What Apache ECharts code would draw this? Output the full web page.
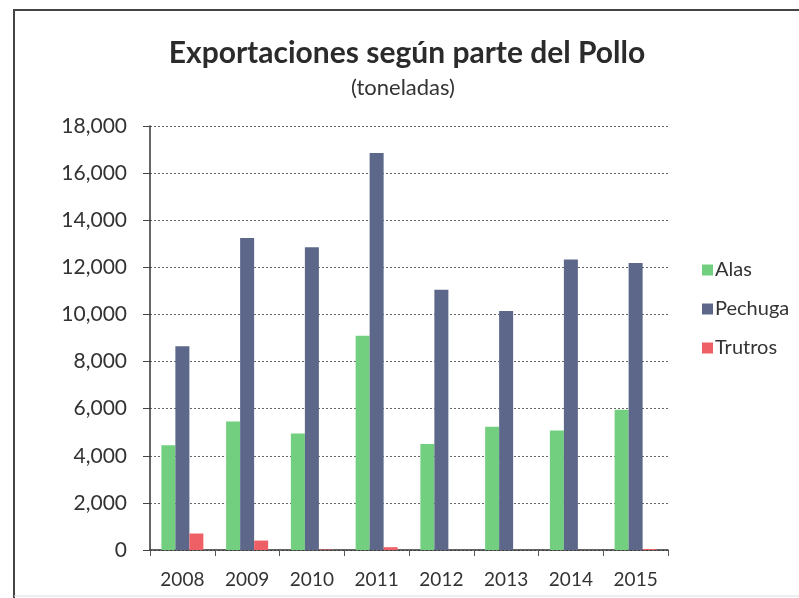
<!DOCTYPE html>
<html>
<head>
<meta charset="utf-8">
<script src="https://cdn.jsdelivr.net/npm/echarts@6/dist/echarts.min.js"></script>
<style>
  html, body { margin: 0; padding: 0; background: #fff; }
  #chart { width: 799px; height: 598px; }
</style>
</head>
<body>
<div id="chart"></div>
<script>
// Toneladas exportadas por parte del pollo, 2008-2015
const years = ['2008', '2009', '2010', '2011', '2012', '2013', '2014', '2015'];
const alas = [4450, 5450, 4950, 9100, 4500, 5230, 5070, 5950];
const pechuga = [8650, 13250, 12850, 16850, 11050, 10150, 12330, 12180];
const trutros = [700, 400, 20, 120, 0, 0, 0, 40];
const yTicks = { min: 0, max: 18000, interval: 2000 };

const FONT = 'Lato, "Open Sans", sans-serif';
const chart = echarts.init(document.getElementById('chart'), null, { renderer: 'canvas' });

const fmt = v => v.toLocaleString('en-US');

chart.setOption({
  animation: false,
  backgroundColor: '#ffffff',
  textStyle: { fontFamily: FONT },
  title: [
    {
      text: 'Exportaciones según parte del Pollo',
      left: 402, top: 33, textAlign: 'center',
      textStyle: { fontFamily: FONT, fontSize: 30, fontWeight: 'bold', color: '#2b2b2b' }
    },
    {
      text: '(toneladas)',
      left: 398, top: 72, textAlign: 'center',
      textStyle: { fontFamily: FONT, fontSize: 22, fontWeight: 'normal', color: '#333' }
    }
  ],
  legend: {
    orient: 'vertical',
    left: 697, top: 255,
    itemWidth: 11, itemHeight: 11, itemGap: 19,
    icon: 'rect',
    textStyle: { fontFamily: FONT, fontSize: 20, color: '#333', padding: [0, 0, 0, -3] },
    data: ['Alas', 'Pechuga', 'Trutros']
  },
  grid: { left: 150, right: 131, top: 126, bottom: 48, containLabel: false },
  xAxis: {
    type: 'category',
    data: years,
    axisLine: { lineStyle: { color: '#333', width: 1.5 } },
    axisTick: { show: true, alignWithLabel: false, length: 6, lineStyle: { color: '#555' } },
    axisLabel: { fontFamily: FONT, fontSize: 19, color: '#333', margin: 20 }
  },
  yAxis: {
    type: 'value',
    min: yTicks.min, max: yTicks.max, interval: yTicks.interval,
    axisLine: { show: true, lineStyle: { color: '#333', width: 1.5 } },
    axisTick: { show: true, inside: false, length: 7, lineStyle: { color: '#444' } },
    axisLabel: { fontFamily: FONT, fontSize: 21, color: '#333', margin: 23, formatter: fmt },
    splitLine: { show: true, lineStyle: { color: '#666', type: [2, 2], width: 1 } }
  },
  series: [
    { name: 'Alas', type: 'bar', data: alas, barWidth: 14, barGap: '0%',
      itemStyle: { color: '#72cf7f' } },
    { name: 'Pechuga', type: 'bar', data: pechuga, barWidth: 14, barGap: '0%',
      itemStyle: { color: '#5c678a' } },
    { name: 'Trutros', type: 'bar', data: trutros, barWidth: 14, barGap: '0%',
      itemStyle: { color: '#ef6066' } }
  ],
  graphic: [
    { type: 'line', shape: { x1: 13, y1: 10, x2: 799, y2: 10 },
      style: { stroke: '#444', lineWidth: 2 } },
    { type: 'line', shape: { x1: 14, y1: 10, x2: 14, y2: 598 },
      style: { stroke: '#444', lineWidth: 2 } },
    { type: 'line', shape: { x1: 14, y1: 596, x2: 799, y2: 596 },
      style: { stroke: '#ddd', lineWidth: 1 } }
  ]
});
</script>
</body>
</html>
